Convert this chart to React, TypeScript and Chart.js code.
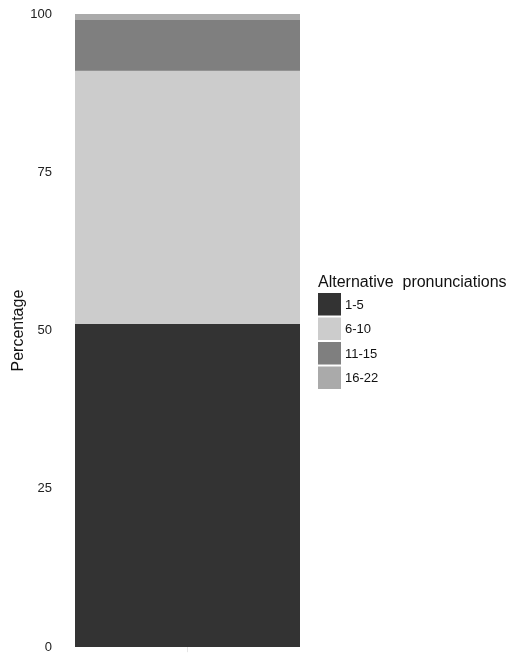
import React, { useEffect, useRef } from "react";
import { Chart, registerables } from "chart.js";

Chart.register(...registerables);

const categories = [""];
const seriesLabels = ["1-5", "6-10", "11-15", "16-22"];
const seriesValues = [51, 40, 8, 1];
const seriesColors = ["#333333", "#cccccc", "#7f7f7f", "#aaaaaa"];
const yTicks = [0, 25, 50, 75, 100];
const yTitle = "Percentage";
const legendTitle = "Alternative  pronunciations";

const FONT = "'Liberation Sans', Arial, sans-serif";

const legendPlugin = {
  id: "customLegend",
  afterDraw(chart: any) {
    const ctx = chart.ctx;
    const x0 = 318;
    ctx.save();
    ctx.fillStyle = "#111111";
    ctx.font = `16px ${FONT}`;
    ctx.textBaseline = "alphabetic";
    ctx.textAlign = "left";
    ctx.fillText(legendTitle, x0, 287);
    const top = 293;
    const pitch = 24.5;
    chart.data.datasets.forEach((ds: any, i: number) => {
      const y = top + i * pitch;
      ctx.fillStyle = ds.backgroundColor;
      ctx.fillRect(x0, y, 23, 22.5);
      ctx.fillStyle = "#111111";
      ctx.font = `13px ${FONT}`;
      ctx.textBaseline = "middle";
      ctx.fillText(ds.label, 345, y + 12);
    });
    ctx.restore();
  },
};

export default function App() {
  const ref = useRef<HTMLCanvasElement | null>(null);

  useEffect(() => {
    document.body.style.margin = "0";
    const canvas = ref.current;
    if (!canvas) return;
    const chart = new Chart(canvas, {
      type: "bar",
      data: {
        labels: categories,
        datasets: seriesLabels.map((label, i) => ({
          label,
          data: [seriesValues[i]],
          backgroundColor: seriesColors[i],
          borderWidth: 0,
          categoryPercentage: 1,
          barPercentage: 1,
        })),
      },
      options: {
        animation: false,
        responsive: false,
        devicePixelRatio: 1,
        layout: { padding: { left: 0, right: 213, top: 14, bottom: 0 } },
        plugins: {
          legend: { display: false },
          tooltip: { enabled: false },
        },
        scales: {
          x: {
            stacked: true,
            offset: true,
            border: { display: false },
            grid: {
              display: true,
              drawOnChartArea: false,
              drawTicks: true,
              tickLength: 5,
              color: "#e6e6e6",
              offset: false,
            },
            ticks: { display: false },
            afterFit: (scale: any) => {
              scale.height = 7;
            },
          },
          y: {
            stacked: true,
            min: 0,
            max: 100,
            border: { display: false },
            grid: {
              display: true,
              drawOnChartArea: false,
              drawTicks: true,
              tickLength: 23,
              color: "rgba(0,0,0,0)",
            },
            afterBuildTicks: (scale: any) => {
              scale.ticks = yTicks.map((v) => ({ value: v }));
            },
            ticks: {
              padding: 0,
              color: "#222222",
              font: { family: FONT, size: 13 },
            },
            title: {
              display: true,
              text: yTitle,
              color: "#111111",
              font: { family: FONT, size: 16 },
              padding: { top: 9, bottom: 0 },
            },
            afterFit: (scale: any) => {
              scale.width = 75;
            },
          },
        },
      },
      plugins: [legendPlugin],
    });
    return () => chart.destroy();
  }, []);

  return (
    <div style={{ width: 513, height: 655, position: "relative" }}>
      <canvas ref={ref} width={513} height={655} style={{ width: 513, height: 655, display: "block" }} />
    </div>
  );
}
